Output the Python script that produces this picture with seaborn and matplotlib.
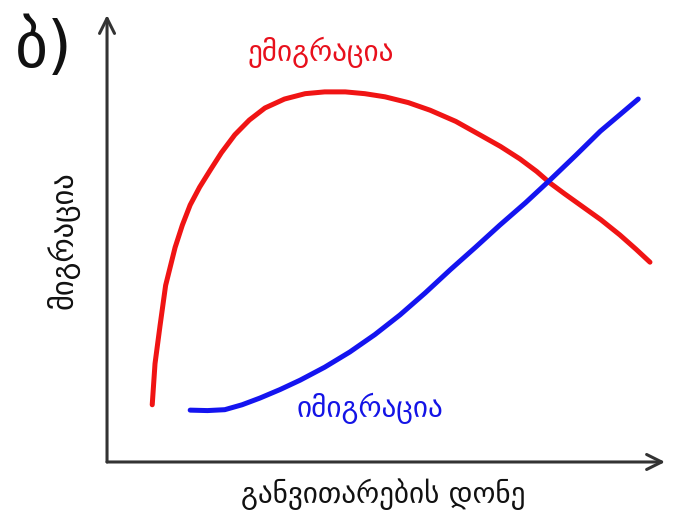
import matplotlib
matplotlib.use("Agg")
import matplotlib.pyplot as plt
import seaborn as sns
import pandas as pd

# values (x: development level, y: migration), arbitrary units 0..10
emig_x = [0.81, 0.86, 0.95, 1.05, 1.22, 1.35, 1.49, 1.66, 1.85, 2.05, 2.29, 2.55, 2.83, 3.18,
          3.55, 3.90, 4.27, 4.62, 4.98, 5.40, 5.79, 6.25, 6.68, 7.05, 7.40, 7.70, 7.94, 8.20,
          8.48, 8.85, 9.19, 9.48, 9.73]
emig_y = [1.28, 2.20, 3.05, 3.95, 4.80, 5.30, 5.75, 6.15, 6.53, 6.92, 7.32, 7.65, 7.92, 8.12,
          8.24, 8.28, 8.28, 8.24, 8.17, 8.04, 7.87, 7.62, 7.32, 7.06, 6.78, 6.50, 6.24, 6.00,
          5.75, 5.42, 5.08, 4.76, 4.47]

imig_x = [1.49, 1.80, 2.11, 2.42, 2.74, 3.10, 3.46, 3.90, 4.35, 4.80, 5.25, 5.70, 6.15,
          6.60, 7.04, 7.50, 7.94, 8.40, 8.84, 9.20, 9.52]
imig_y = [1.16, 1.15, 1.17, 1.28, 1.43, 1.62, 1.83, 2.12, 2.46, 2.85, 3.29, 3.78, 4.30,
          4.80, 5.30, 5.80, 6.31, 6.86, 7.40, 7.78, 8.12]

emig_label = "ემიგრაცია"
imig_label = "იმიგრაცია"
x_label = "განვითარების დონე"
y_label = "მიგრაცია"
panel = "ბ)"

sns.set_theme(style="white")
plt.rcParams["font.family"] = ["DejaVu Sans"]

fig = plt.figure(figsize=(6.83, 5.14), dpi=100)
ax = fig.add_axes([0.1567, 0.1012, 0.817, 0.8696])

emig = pd.DataFrame({"x": emig_x, "y": emig_y})
imig = pd.DataFrame({"x": imig_x, "y": imig_y})
sns.lineplot(data=emig, x="x", y="y", color="#f01414", linewidth=3.6, sort=False, ax=ax)
sns.lineplot(data=imig, x="x", y="y", color="#1414f0", linewidth=3.6, sort=False, ax=ax)

ax.set_xlim(0, 10)
ax.set_ylim(0, 10)
for s in ax.spines.values():
    s.set_visible(False)
ax.set_xticks([])
ax.set_yticks([])
ax.set_xlabel("")
ax.set_ylabel("")

# axis arrows
arrow = dict(arrowstyle="->,head_length=0.9,head_width=0.45", color="#333333", lw=2.2,
             shrinkA=0, shrinkB=0)
ax.annotate("", xy=(1, 0), xytext=(0, 0), xycoords="axes fraction", arrowprops=arrow)
ax.annotate("", xy=(0, 1), xytext=(0, 0), xycoords="axes fraction", arrowprops=arrow)

ax.text(3.83, 9.17, emig_label, color="#e8101c", fontsize=21, ha="center", va="center")
ax.text(4.71, 1.2, imig_label, color="#1414e6", fontsize=21, ha="center", va="center")

fig.text(0.561, 0.039, x_label, fontsize=21, ha="center", va="center", color="#111111")
fig.text(0.092, 0.533, y_label, fontsize=22, ha="center", va="center", rotation=90, color="#111111")
fig.text(0.064, 0.905, panel, fontsize=46, ha="center", va="center", color="#111111")

fig.savefig("out.png", dpi=100)
